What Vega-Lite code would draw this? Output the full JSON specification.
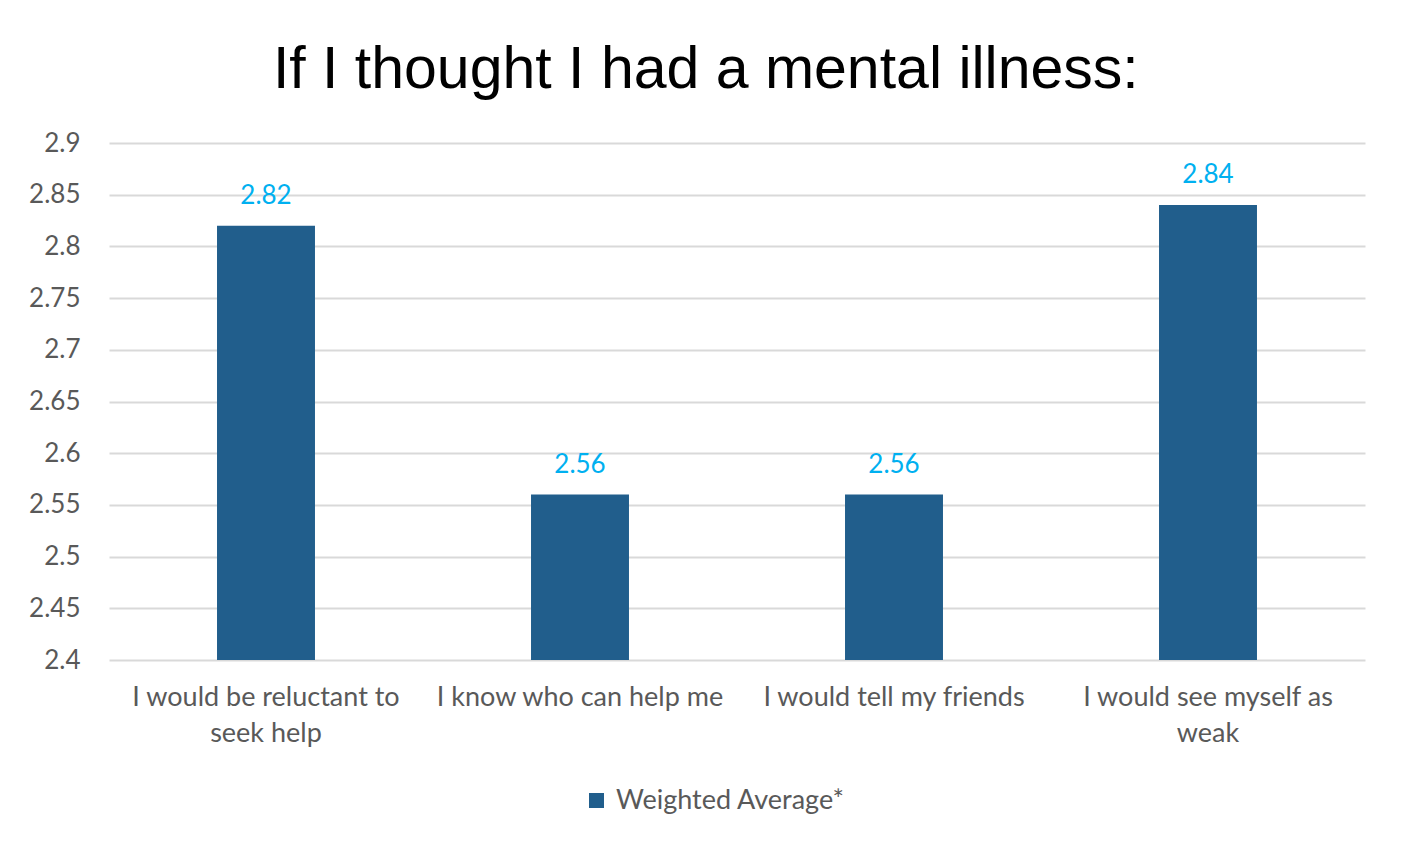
{
  "$schema": "https://vega.github.io/schema/vega-lite/v6.json",
  "width": 1256,
  "height": 517,
  "padding": {"left": 28, "top": 41, "right": 43, "bottom": 10},
  "background": "white",
  "title": {
    "text": "If I thought I had a mental illness:",
    "font": "Liberation Sans",
    "fontSize": 59,
    "fontWeight": "normal",
    "color": "#000000",
    "anchor": "middle",
    "frame": "bounds",
    "dx": 9,
    "offset": 30
  },
  "data": {
    "values": [
      {"statement": "I would be reluctant to seek help", "series": "Weighted Average*", "value": 2.82},
      {"statement": "I know who can help me", "series": "Weighted Average*", "value": 2.56},
      {"statement": "I would tell my friends", "series": "Weighted Average*", "value": 2.56},
      {"statement": "I would see myself as weak", "series": "Weighted Average*", "value": 2.84}
    ]
  },
  "encoding": {
    "x": {
      "field": "statement",
      "type": "nominal",
      "sort": null,
      "title": null,
      "scale": {"paddingInner": 0.688, "paddingOuter": 0.344},
      "axis": {
        "labelAngle": 0,
        "labelFont": "Lato",
        "labelFontSize": 27,
        "labelColor": "#595959",
        "labelLimit": 500,
        "labelLineHeight": 36,
        "labelPadding": 24,
        "domain": false,
        "ticks": false,
        "grid": false,
        "labelExpr": "datum.value == 'I would be reluctant to seek help' ? ['I would be reluctant to', 'seek help'] : datum.value == 'I would see myself as weak' ? ['I would see myself as', 'weak'] : datum.value"
      }
    },
    "y": {
      "field": "value",
      "type": "quantitative",
      "title": null,
      "scale": {"domain": [2.4, 2.9], "zero": false, "nice": false},
      "axis": {
        "values": [2.4, 2.45, 2.5, 2.55, 2.6, 2.65, 2.7, 2.75, 2.8, 2.85, 2.9],
        "format": "~g",
        "labelFont": "Lato",
        "labelFontSize": 26,
        "labelColor": "#595959",
        "labelPadding": 29,
        "domain": false,
        "ticks": false,
        "grid": true,
        "gridColor": "#D9D9D9",
        "gridWidth": 2
      }
    }
  },
  "layer": [
    {
      "mark": {"type": "bar"},
      "encoding": {
        "y2": {"datum": 2.4},
        "color": {
          "field": "series",
          "type": "nominal",
          "scale": {"range": ["#215E8C"]},
          "legend": {
            "orient": "none",
            "legendX": 474,
            "legendY": 644,
            "direction": "horizontal",
            "title": null,
            "symbolType": "square",
            "symbolSize": 225,
            "symbolStrokeWidth": 0,
            "symbolOffset": 0,
            "labelFont": "Lato",
            "labelFontSize": 27,
            "labelColor": "#595959",
            "labelLimit": 400,
            "labelOffset": 6
          }
        }
      }
    },
    {
      "mark": {
        "type": "text",
        "dy": -22,
        "baseline": "alphabetic",
        "font": "Lato",
        "fontSize": 26,
        "color": "#00B0F0"
      },
      "encoding": {
        "text": {"field": "value", "type": "quantitative", "format": ".2f"}
      }
    }
  ],
  "config": {"view": {"stroke": null}}
}
